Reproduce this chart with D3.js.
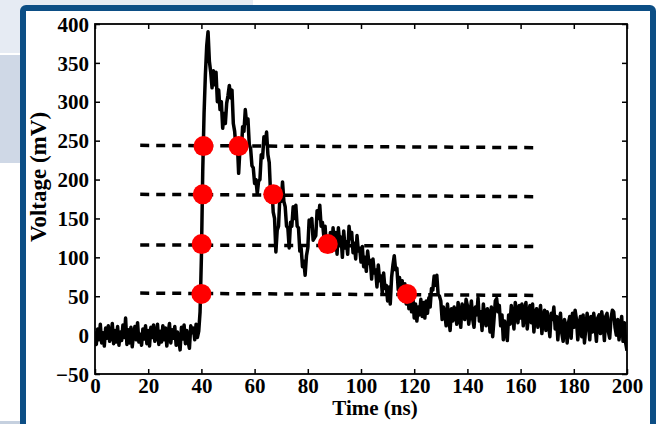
<!DOCTYPE html>
<html>
<head>
<meta charset="utf-8">
<script src="https://cdn.jsdelivr.net/npm/d3@7/dist/d3.min.js"></script>
<style>
    body { margin: 0; background: #fff; }
    #chart { width: 656px; height: 424px; }
    .axis text { font-family: "Liberation Serif", "Times New Roman", serif; font-weight: bold; font-size: 21px; fill: #000; }
    .axis line { stroke: #000; stroke-width: 1.5; }
    .axis-title { font-family: "Liberation Serif", "Times New Roman", serif; font-weight: bold; fill: #000; }
</style>
</head>
<body>
<div id="chart"></div>
<script>

// sampled trace, one value every 0.5 ns starting at 0 ns (mV)
const sampleStart = 0;
const sampleStep = 0.5;
const voltage = [
    5, -12, 8, -6, 14, -10, 3, -14, 9, -4, 12, -8, -2, 15, -11, 6, -9, 11, -13, 4,
    -7, 13, -3, 22, -12, 7, -10, 10, -15, 2, 11, -6, 16, -9, 1, -13, 8, -5, 12, -11,
    6, -14, 10, -3, 13, -8, -1, 14, -12, 5, -9, 12, -6, 9, -14, 3, 15, -10, 7, -4,
    11, -13, 4, -7, -19, 10, -5, 13, -11, 6, -8, -17, 12, 3, 9, -6, 14, -3, 5, 30,
    100, 210, 285, 335, 372, 390, 352, 338, 318, 340, 322, 338, 300, 315, 290, 300, 266, 285, 272, 298,
    308, 321, 305, 315, 272, 262, 240, 248, 208, 240, 236, 268, 262, 290, 272, 278, 245, 240, 218, 215,
    195, 200, 182, 198, 200, 232, 228, 255, 246, 261, 232, 222, 182, 190, 158, 150, 107, 135, 140, 178,
    172, 197, 172, 165, 140, 138, 112, 145, 140, 165, 150, 167, 140, 138, 108, 112, 88, 95, 77, 102,
    112, 148, 140, 150, 122, 125, 128, 160, 150, 167, 140, 145, 128, 140, 112, 126, 112, 132, 108, 138,
    110, 132, 104, 138, 118, 126, 100, 134, 112, 120, 104, 140, 124, 132, 106, 118, 98, 128, 108, 112,
    94, 114, 88, 100, 82, 108, 92, 96, 72, 98, 80, 84, 62, 90, 70, 76, 54, 80, 60, 64,
    44, 62, 40, 74, 90, 102, 84, 86, 58, 74, 52, 70, 44, 66, 40, 60, 34, 56, 30, 50,
    22, 40, 18, 36, 26, 46, 24, 42, 22, 44, 28, 48, 36, 60, 58, 76, 64, 77, 52, 50,
    44, 20, 36, 28, 12, 40, 22, 6, 34, 18, 36, 30, 14, 42, 26, 10, 40, 34, 20, 46,
    38, 14, 28, 44, 20, 10, 36, 26, 48, 18, 30, 6, 40, 22, 12, 34, 28, 4, 36, -2,
    20, 44, 47, 30, 38, 12, 26, -6, 18, 8, -7, 26, 14, 38, 24, 8, 42, 30, 16, 38,
    22, 40, 12, 30, 42, 8, 26, 38, 16, 40, 4, 28, 34, 10, 24, 38, 2, 20, 32, 6,
    30, 14, -2, 28, 20, 36, 8, 24, -6, 18, 28, 2, -8, 20, 12, -10, 16, 24, -4, 28,
    10, 32, 20, -6, 14, 24, -2, 26, -10, 8, 28, 16, -6, 24, 4, 28, 12, -8, 22, 26,
    2, 30, 16, -7, 24, 28, 4, -4, 22, 32, 30, 10, 0, 20, -6, 14, 24, -8, 16, -10,
    -20
];

// threshold lines (mV at left and right end) and their time span (ns)
const levelStart = 17;
const levelEnd = 166;
const levelLeft = [244, 181, 116, 54];
const levelRight = [241, 178, 114, 51];

// crossing markers
const riseTimes = [40.8, 40.5, 40.1, 40.0];
const fallTimes = [54, 67, 87.5, 117.3];
const markLevels = [243, 181, 117, 53];

const xTicks = [0, 20, 40, 60, 80, 100, 120, 140, 160, 180, 200];
const yTicks = [-50, 0, 50, 100, 150, 200, 250, 300, 350, 400];


class makeChart {

    constructor(opts) {
        Object.assign(this, opts);
        this.update();
    }

    update() {
        this._setDimensions();
        this._setScales();
        this.draw();
    }

    _setDimensions() {
        this.fullWidth = 656;
        this.fullHeight = 424;

        this.margin = {
            top: 24,
            right: 29,
            bottom: 50,
            left: 95
        };

        this.width = this.fullWidth - this.margin.left - this.margin.right;
        this.height = this.fullHeight - this.margin.top - this.margin.bottom;
    }

    _setScales() {
        this.xScale = d3.scaleLinear()
            .range([0, this.width])
            .domain([0, 200]);

        this.yScale = d3.scaleLinear()
            .range([this.height, 0])
            .domain([-50, 400]);
    }

    draw() {
        this.element.innerHTML = "";

        this.svg = d3.select(this.element).append("svg")
            .attr("width", this.fullWidth)
            .attr("height", this.fullHeight);

        // slide background peeking round the frame
        this.svg.append("rect").attr("x", 0).attr("y", 0).attr("width", 253).attr("height", 53).attr("fill", "#e6ebf3");
        this.svg.append("rect").attr("x", 0).attr("y", 55).attr("width", 22).attr("height", 108).attr("fill", "#cfd8e6");
        this.svg.append("rect").attr("x", 0).attr("y", 421).attr("width", 650).attr("height", 3).attr("fill", "#c5d0df");

        // blue frame
        this.svg.append("rect")
            .attr("x", 23).attr("y", 8)
            .attr("width", 630).attr("height", 430)
            .attr("rx", 3)
            .attr("fill", "#fff")
            .attr("stroke", "#0c4e85")
            .attr("stroke-width", 6);

        this.plot = this.svg.append("g")
            .attr("transform", `translate(${this.margin.left},${this.margin.top})`)
            .attr("class", "chart-g");

        this.plot.append("clipPath").attr("id", "clip")
            .append("rect")
            .attr("width", this.width).attr("height", this.height);

        // ticks on all four sides, pointing inwards
        this.plot.append("g")
            .classed("axis x-axis", true)
            .attr("transform", `translate(0,${this.height})`)
            .call(d3.axisBottom(this.xScale).tickValues(xTicks).tickSizeInner(-5).tickSizeOuter(0).tickPadding(4))
            .call(g => g.select(".domain").remove());

        this.plot.append("g")
            .classed("axis x-axis-top", true)
            .call(d3.axisTop(this.xScale).tickValues(xTicks).tickSizeInner(-5).tickSizeOuter(0).tickFormat(""))
            .call(g => g.select(".domain").remove());

        this.plot.append("g")
            .classed("axis y-axis", true)
            .call(d3.axisLeft(this.yScale).tickValues(yTicks).tickSizeInner(-5).tickSizeOuter(0).tickPadding(6))
            .call(g => g.select(".domain").remove());

        this.plot.append("g")
            .classed("axis y-axis-right", true)
            .attr("transform", `translate(${this.width},0)`)
            .call(d3.axisRight(this.yScale).tickValues(yTicks).tickSizeInner(-5).tickSizeOuter(0).tickFormat(""))
            .call(g => g.select(".domain").remove());

        this.plot.selectAll(".axis text").attr("dy", function() {
            return d3.select(this.parentNode.parentNode).classed("x-axis") ? "0.71em" : "0.34em";
        });

        // box
        this.plot.append("rect")
            .attr("width", this.width).attr("height", this.height)
            .attr("fill", "none")
            .attr("stroke", "#000")
            .attr("stroke-width", 1.8);

        // dashed threshold lines
        this.plot.selectAll(".level")
            .data(levelLeft)
            .join("line")
            .attr("class", "level")
            .attr("x1", this.xScale(levelStart))
            .attr("x2", this.xScale(levelEnd))
            .attr("y1", d => this.yScale(d))
            .attr("y2", (d, i) => this.yScale(levelRight[i]))
            .attr("stroke", "#000")
            .attr("stroke-width", 3.5)
            .attr("stroke-dasharray", "9,7");

        // trace
        const line = d3.line()
            .x((d, i) => this.xScale(sampleStart + i * sampleStep))
            .y(d => this.yScale(d));

        this.plot.append("path")
            .datum(voltage)
            .attr("clip-path", "url(#clip)")
            .attr("d", line)
            .attr("fill", "none")
            .attr("stroke", "#000")
            .attr("stroke-width", 3.5)
            .attr("stroke-linejoin", "round");

        // markers
        const marks = riseTimes.map((t, i) => [t, markLevels[i]])
            .concat(fallTimes.map((t, i) => [t, markLevels[i]]));

        this.plot.selectAll(".mark")
            .data(marks)
            .join("circle")
            .attr("class", "mark")
            .attr("cx", d => this.xScale(d[0]))
            .attr("cy", d => this.yScale(d[1]))
            .attr("r", 10)
            .attr("fill", "#ff0000");

        // axis titles
        this.svg.append("text")
            .attr("class", "axis-title")
            .attr("transform", "translate(46,177) rotate(-90)")
            .attr("text-anchor", "middle")
            .attr("font-size", 23)
            .text("Voltage (mV)");

        this.svg.append("text")
            .attr("class", "axis-title")
            .attr("x", 375)
            .attr("y", 415)
            .attr("text-anchor", "middle")
            .attr("font-size", 21)
            .text("Time (ns)");
    }
}

new makeChart({ element: document.getElementById("chart") });

</script>
</body>
</html>
